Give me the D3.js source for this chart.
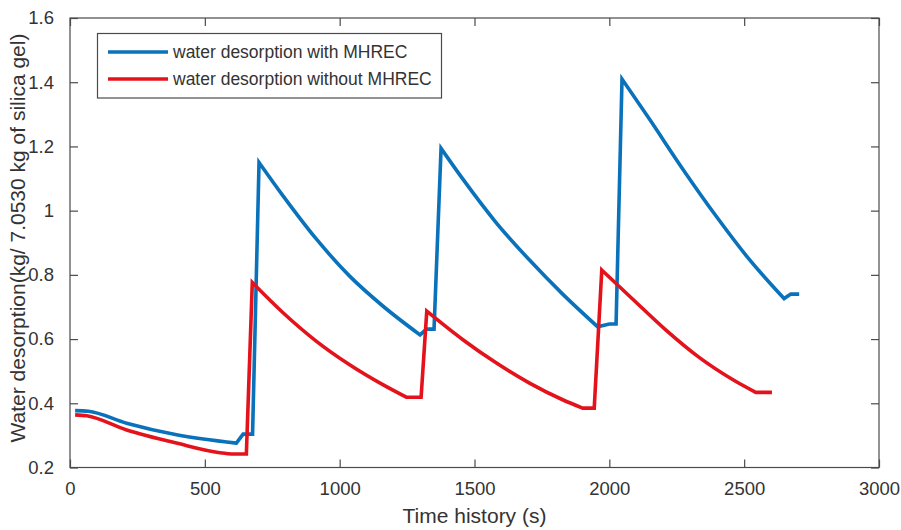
<!DOCTYPE html>
<html>
<head>
<meta charset="utf-8">
<script src="https://cdn.jsdelivr.net/npm/d3@7"></script>
<style>
  html, body { margin: 0; padding: 0; background: #fff; }
  svg { display: block; font-family: "Liberation Sans", Arial, sans-serif; }
</style>
</head>
<body>
<svg id="chart" width="901" height="530"></svg>
<script>
// ---- Data ----
const seriesNames = ["water desorption with MHREC", "water desorption without MHREC"];
const xTicks = [0, 500, 1000, 1500, 2000, 2500, 3000];
const yTicks = [0.2, 0.4, 0.6, 0.8, 1.0, 1.2, 1.4, 1.6];
const yTickLabels = ["0.2", "0.4", "0.6", "0.8", "1", "1.2", "1.4", "1.6"];

const withTime = [19, 68, 210, 395, 617, 642, 677,
  701, 790, 914, 1037, 1160, 1298, 1322, 1350,
  1376, 1457, 1580, 1704, 1827, 1957, 2000, 2025,
  2047, 2148, 2272, 2395, 2519, 2648, 2673, 2704];
const withValue = [0.377, 0.375, 0.338, 0.302, 0.276, 0.304, 0.304,
  1.15, 1.046, 0.911, 0.796, 0.703, 0.613, 0.631, 0.631,
  1.194, 1.098, 0.963, 0.846, 0.74, 0.638, 0.647, 0.647,
  1.41, 1.286, 1.13, 0.984, 0.848, 0.726, 0.74, 0.74];

const withoutTime = [19, 62, 210, 395, 556, 599, 654,
  676, 790, 914, 1037, 1160, 1247, 1302,
  1323, 1457, 1580, 1704, 1827, 1901, 1944,
  1972, 2086, 2210, 2333, 2457, 2543, 2603];
const withoutValue = [0.364, 0.361, 0.317, 0.276, 0.246, 0.242, 0.242,
  0.776, 0.682, 0.593, 0.52, 0.458, 0.419, 0.419,
  0.687, 0.598, 0.526, 0.463, 0.411, 0.385, 0.385,
  0.815, 0.725, 0.628, 0.543, 0.474, 0.434, 0.434];

const colors = ["#0A72BA", "#E4131B"];

// ---- Layout ----
const svg = d3.select("#chart");
const mLeft = 70, mRight = 879, mTop = 18, mBottom = 467.5;
const axisColor = "#4a4a4a";

const x = d3.scaleLinear().domain([0, 3000]).range([mLeft, mRight]);
const y = d3.scaleLinear().domain([0.2, 1.6]).range([mBottom, mTop]);

// Box
svg.append("rect")
  .attr("x", mLeft).attr("y", mTop)
  .attr("width", mRight - mLeft).attr("height", mBottom - mTop)
  .attr("fill", "none").attr("stroke", axisColor).attr("stroke-width", 1.2);

// Axes with inward ticks
const tickLen = 8;
const xAxisB = d3.axisBottom(x).tickValues(xTicks).tickSizeInner(-tickLen).tickSizeOuter(0).tickPadding(14)
  .tickFormat(d3.format("d"));
const xAxisT = d3.axisTop(x).tickValues(xTicks).tickSizeInner(-tickLen).tickSizeOuter(0).tickFormat("");
const yAxisL = d3.axisLeft(y).tickValues(yTicks).tickSizeInner(-tickLen).tickSizeOuter(0).tickPadding(16)
  .tickFormat((d, i) => yTickLabels[i]);
const yAxisR = d3.axisRight(y).tickValues(yTicks).tickSizeInner(-tickLen).tickSizeOuter(0).tickFormat("");

function styleAxis(g) {
  g.select(".domain").remove();
  g.selectAll(".tick line").attr("stroke", axisColor).attr("stroke-width", 1.2);
  g.selectAll(".tick text").attr("fill", "#333").attr("font-size", 18.5)
    .attr("font-family", "Liberation Sans, Arial, sans-serif");
}
svg.append("g").attr("transform", `translate(0,${mBottom})`).call(xAxisB).call(styleAxis);
svg.append("g").attr("transform", `translate(0,${mTop})`).call(xAxisT).call(styleAxis);
svg.append("g").attr("transform", `translate(${mLeft},0)`).call(yAxisL).call(styleAxis);
svg.append("g").attr("transform", `translate(${mRight},0)`).call(yAxisR).call(styleAxis);

// Series: smooth (monotone) through the decaying runs, straight for jumps / flats
const smoothLine = d3.line().x(d => x(d[0])).y(d => y(d[1])).curve(d3.curveMonotoneX);
const straightLine = d3.line().x(d => x(d[0])).y(d => y(d[1]));

function buildPath(pts) {
  const isDecay = [];
  for (let i = 0; i < pts.length - 1; i++) {
    const dx = x(pts[i + 1][0]) - x(pts[i][0]);
    const dy = y(pts[i + 1][1]) - y(pts[i][1]); // positive = going down on screen
    isDecay.push(dy > 0 && dx > 10 && dy / dx < 3);
  }
  const pieces = [];
  let i = 0;
  while (i < pts.length - 1) {
    let j = i;
    const kind = isDecay[i];
    while (j < pts.length - 1 && isDecay[j] === kind) j++;
    const run = pts.slice(i, j + 1);
    pieces.push(kind ? smoothLine(run) : straightLine(run));
    i = j;
  }
  return pieces.map((p, k) => (k === 0 ? p : "L" + p.slice(1))).join("");
}

const series = [
  d3.zip(withTime, withValue),
  d3.zip(withoutTime, withoutValue)
];
series.forEach((s, i) => {
  svg.append("path")
    .attr("d", buildPath(s))
    .attr("fill", "none")
    .attr("stroke", colors[i])
    .attr("stroke-width", 3.6)
    .attr("stroke-linejoin", "miter")
    .attr("stroke-miterlimit", 4);
});

// Axis labels
svg.append("text")
  .attr("x", (mLeft + mRight) / 2).attr("y", 523)
  .attr("text-anchor", "middle")
  .attr("font-size", 21).attr("fill", "#333")
  .text("Time history (s)");

svg.append("text")
  .attr("transform", `translate(25,238) rotate(-90)`)
  .attr("text-anchor", "middle")
  .attr("font-size", 21).attr("fill", "#333")
  .text("Water desorption(kg/ 7.0530 kg of silica gel)");

// Legend
const lg = svg.append("g");
lg.append("rect")
  .attr("x", 97.5).attr("y", 33.5).attr("width", 344).attr("height", 64.5)
  .attr("fill", "#fff").attr("stroke", axisColor).attr("stroke-width", 1.2);
const legendY = [52, 79];
seriesNames.forEach((name, i) => {
  lg.append("line")
    .attr("x1", 108).attr("x2", 168)
    .attr("y1", legendY[i]).attr("y2", legendY[i])
    .attr("stroke", colors[i]).attr("stroke-width", 3.6);
  lg.append("text")
    .attr("x", 173).attr("y", legendY[i])
    .attr("dy", "0.35em")
    .attr("font-size", 17.5).attr("fill", "#333")
    .text(name);
});
</script>
</body>
</html>
